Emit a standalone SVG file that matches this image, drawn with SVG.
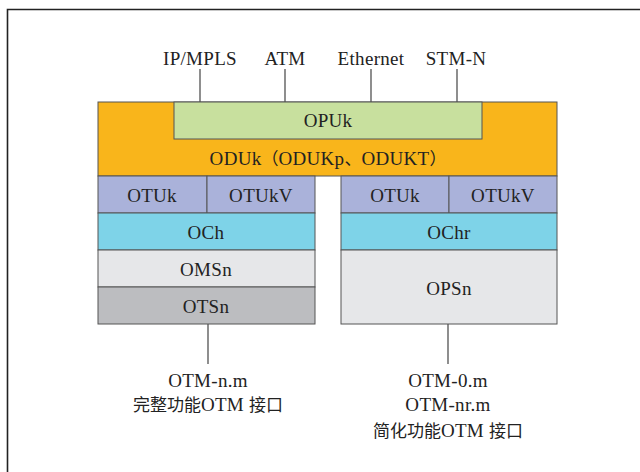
<svg xmlns="http://www.w3.org/2000/svg" width="640" height="472" viewBox="0 0 640 472">
<style>
text{font-family:'Liberation Serif','Times New Roman','Noto Sans CJK SC',serif;font-size:19px;fill:#222;text-anchor:middle;letter-spacing:0.3px}
.cj{font-family:'Noto Sans CJK SC',sans-serif;font-size:17px;letter-spacing:0}
.box{stroke:#555;stroke-width:1}
.ln{stroke:#444;stroke-width:1.2;fill:none}
.or{fill:#F9B51B}.gr{fill:#C8E09E}.lv{fill:#AAB2DA}.cy{fill:#7ED3E8}.lg{fill:#E6E7E9}.dg{fill:#BCBDC0}
</style>
<rect width="640" height="472" fill="#fff"/>
<path d="M7.5 472V9.5H640" fill="none" stroke="#222" stroke-width="1.6"/>
<g id="connectors">
<line class="ln" x1="200" y1="69" x2="200" y2="102"/>
<line class="ln" x1="285" y1="69" x2="285" y2="102"/>
<line class="ln" x1="371" y1="69" x2="371" y2="102"/>
<line class="ln" x1="457" y1="69" x2="457" y2="102"/>
<line class="ln" x1="208" y1="324" x2="208" y2="364"/>
<line class="ln" x1="448" y1="324" x2="448" y2="364"/>
</g>
<g id="labels-top">
<text x="200" y="65">IP/MPLS</text>
<text x="285" y="65">ATM</text>
<text x="371" y="65">Ethernet</text>
<text x="456" y="65">STM-N</text>
</g>
<g id="oduk"><rect class="box or" x="98" y="102" width="459" height="74"/><text x="328" y="165">ODUk<tspan class="cj">（</tspan>ODUKp<tspan class="cj">、</tspan>ODUKT<tspan class="cj">）</tspan></text></g>
<g id="opuk"><rect class="box gr" x="174" y="102" width="308" height="37"/><text x="328" y="127">OPUk</text></g>
<g id="otuk-l"><rect class="box lv" x="98" y="176" width="109" height="37"/><text x="152" y="202">OTUk</text></g>
<g id="otukv-l"><rect class="box lv" x="207" y="176" width="108" height="37"/><text x="261" y="202">OTUkV</text></g>
<g id="och"><rect class="box cy" x="98" y="213" width="217" height="37"/><text x="206" y="239">OCh</text></g>
<g id="omsn"><rect class="box lg" x="98" y="250" width="217" height="37"/><text x="206" y="276">OMSn</text></g>
<g id="otsn"><rect class="box dg" x="98" y="287" width="217" height="37"/><text x="206" y="313">OTSn</text></g>
<g id="otuk-r"><rect class="box lv" x="341" y="176" width="108" height="37"/><text x="395" y="202">OTUk</text></g>
<g id="otukv-r"><rect class="box lv" x="449" y="176" width="108" height="37"/><text x="503" y="202">OTUkV</text></g>
<g id="ochr"><rect class="box cy" x="341" y="213" width="216" height="37"/><text x="449" y="239">OChr</text></g>
<g id="opsn"><rect class="box lg" x="341" y="250" width="216" height="74"/><text x="449" y="295">OPSn</text></g>
<g id="otm-full">
<text x="208" y="387">OTM-n.m</text>
<text x="208" y="411"><tspan class="cj">完整功能</tspan>OTM <tspan class="cj">接口</tspan></text>
</g>
<g id="otm-reduced">
<text x="448" y="387">OTM-0.m</text>
<text x="448" y="411">OTM-nr.m</text>
<text x="448" y="437"><tspan class="cj">简化功能</tspan>OTM <tspan class="cj">接口</tspan></text>
</g>
</svg>
